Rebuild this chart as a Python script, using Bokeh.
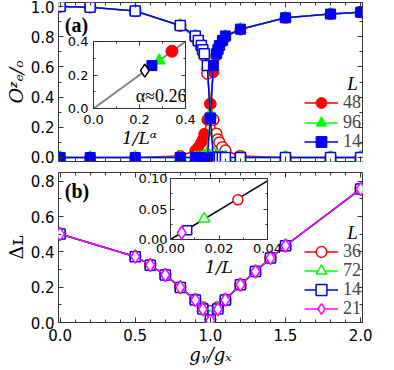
from bokeh.plotting import figure
from bokeh.layouts import column
from bokeh.models import (Range1d, LinearAxis, SingleIntervalTicker, Label,
                          Legend, LegendItem, NumeralTickFormatter,
                          CustomJSTickFormatter)
from bokeh.embed import file_html
from bokeh.resources import INLINE

# ---------------- data ----------------
g_a = [0.0, 0.2, 0.5, 0.8, 0.9, 0.92, 0.94, 0.95, 0.96, 0.98, 1.0,
       1.02, 1.04, 1.05, 1.06, 1.08, 1.1, 1.2, 1.5, 1.8, 2.0]
Oe_48 = [1.0, 0.995, 0.97, 0.872, 0.795, 0.765, 0.735, 0.705, 0.675, 0.555, 0.355,
         0.25, 0.157, 0.12, 0.10, 0.068, 0.046, 0.01, 0.0, 0.0, 0.0]
Oo_48 = [0.0, 0.0, 0.0, 0.01, 0.046, 0.068, 0.10, 0.12, 0.157, 0.25, 0.355,
         0.565, 0.675, 0.705, 0.735, 0.765, 0.795, 0.848, 0.925, 0.95, 0.962]
Oe_96 = [1.0, 0.995, 0.97, 0.873, 0.802, 0.772, 0.739, 0.711, 0.684, 0.600, 0.283,
         0.03, 0.01, 0.0, 0.0, 0.0, 0.0, 0.0, 0.0, 0.0, 0.0]
Oo_96 = [0.0, 0.0, 0.0, 0.0, 0.0, 0.0, 0.0, 0.0, 0.01, 0.03, 0.283,
         0.600, 0.684, 0.711, 0.739, 0.772, 0.802, 0.85, 0.925, 0.95, 0.962]
Oe_144 = [1.0, 0.995, 0.97, 0.874, 0.805, 0.775, 0.742, 0.714, 0.687, 0.609, 0.26,
          0.0, 0.0, 0.0, 0.0, 0.0, 0.0, 0.0, 0.0, 0.0, 0.0]
Oo_144 = [0.0, 0.0, 0.0, 0.0, 0.0, 0.0, 0.0, 0.0, 0.0, 0.0, 0.26,
          0.609, 0.687, 0.714, 0.742, 0.775, 0.805, 0.85, 0.925, 0.95, 0.962]
L_a = ["48", "96", "144"]

g_b = [0.0, 0.5, 0.6, 0.7, 0.8, 0.9, 0.95, 1.0, 1.05, 1.1, 1.2, 1.3, 1.4, 1.5, 2.0]
D_36 = [0.502, 0.374, 0.326, 0.270, 0.200, 0.130, 0.086, 0.065, 0.086, 0.131, 0.215, 0.290, 0.366, 0.436, 0.757]
D_72 = [0.502, 0.373, 0.325, 0.269, 0.199, 0.128, 0.080, 0.034, 0.080, 0.129, 0.214, 0.289, 0.365, 0.435, 0.756]
D_144 = [0.501, 0.373, 0.325, 0.269, 0.199, 0.127, 0.077, 0.015, 0.077, 0.128, 0.214, 0.289, 0.365, 0.435, 0.756]
D_216 = [0.501, 0.373, 0.325, 0.269, 0.199, 0.127, 0.075, 0.011, 0.075, 0.128, 0.214, 0.289, 0.365, 0.435, 0.756]
L_b = ["36", "72", "144", "216"]

# inset (a): order parameter vs 1/L^alpha  (L = 48, 96, 144, 216)
ia_x = [0.341, 0.286, 0.254, 0.223]
ia_y = [0.342, 0.286, 0.256, 0.226]
fit_a_x = [0.0, 0.4]
fit_a_y = [0.0, 0.4]
# inset (b): gap at g=1 vs 1/L  (L = 36, 72, 144, 216)
ib_x = [0.0278, 0.0139, 0.0069, 0.0046]
ib_y = [0.065, 0.034, 0.015, 0.011]
fit_b_x = [0.0, 0.04]
fit_b_y = [0.0, 0.096]

# axis titles
title_a_y = "Oᶻₑ/ₒ"
title_b_y = "Δʟ"
title_b_x = "gᵧ/gₓ"
title_ia_x = "1/Lᵅ"
title_ib_x = "1/L"

# ---------------- styling helpers ----------------
RED, GREEN, BLUE, MAG = "#ff0000", "#00ff00", "#0000ff", "#ff00ff"
FRAME = "#333333"
SERIF = "Liberation Serif"
TSERIF = "DejaVu Serif"
SANS = "DejaVu Sans"
W, H = 378, 368
HA = 168  # height of panel (a) canvas


def make_fig(w, h, xr, yr, bl, br, bt, bb):
    p = figure(width=w, height=h, x_range=Range1d(*xr), y_range=Range1d(*yr),
               output_backend="svg", toolbar_location=None, tools="",
               min_border_left=bl, min_border_right=br,
               min_border_top=bt, min_border_bottom=bb)
    p.xgrid.visible = False
    p.ygrid.visible = False
    p.outline_line_color = FRAME
    p.outline_line_width = 1
    p.background_fill_color = "white"
    p.border_fill_color = "white"
    return p


def style_axis(ax, ticker, show, size, standoff, fmt, maj=5, mnr=3):
    ax.ticker = ticker
    ax.axis_line_color = None
    ax.major_tick_in = maj
    ax.major_tick_out = 0
    ax.minor_tick_in = mnr
    ax.minor_tick_out = 0
    ax.major_tick_line_color = FRAME
    ax.minor_tick_line_color = FRAME
    if show:
        ax.formatter = NumeralTickFormatter(format=fmt)
        ax.major_label_text_font = SANS
        ax.major_label_text_font_size = size
        ax.major_label_text_color = "black"
        ax.major_label_standoff = standoff
    else:
        # mirrored ticks only: no labels, no space reserved
        ax.formatter = CustomJSTickFormatter(code="return ''")
        ax.major_label_text_font_size = "0px"
        ax.major_label_standoff = 0


def frame_axes(p, xint, xminor, yint, yminor, xshow, yshow, size,
               xstand, ystand, xfmt, yfmt, maj=5, mnr=3):
    style_axis(p.below[0], SingleIntervalTicker(interval=xint, num_minor_ticks=xminor),
               xshow, size, xstand, xfmt, maj, mnr)
    style_axis(p.left[0], SingleIntervalTicker(interval=yint, num_minor_ticks=yminor),
               yshow, size, ystand, yfmt, maj, mnr)
    top = LinearAxis()
    style_axis(top, SingleIntervalTicker(interval=xint, num_minor_ticks=xminor),
               False, size, 0, xfmt, maj, mnr)
    p.add_layout(top, "above")
    right = LinearAxis()
    style_axis(right, SingleIntervalTicker(interval=yint, num_minor_ticks=yminor),
               False, size, 0, yfmt, maj, mnr)
    p.add_layout(right, "right")


def axis_title(ax, text, size, style="italic", standoff=2):
    ax.axis_label = text
    ax.axis_label_text_font = TSERIF
    ax.axis_label_text_font_size = f"{size}px"
    ax.axis_label_text_font_style = style
    ax.axis_label_text_color = "black"
    ax.axis_label_standoff = standoff


def lab(p, text, x, y, size, style="normal", font=SERIF,
        align="left", baseline="alphabetic"):
    p.add_layout(Label(x=x, y=y, x_units="screen", y_units="screen", text=text,
                       text_font=font, text_font_size=f"{size}px",
                       text_font_style=style, text_align=align,
                       text_baseline=baseline, text_color="black"))


def row_legend(p, label, renderers, x, y):
    p.add_layout(Legend(items=[LegendItem(label=label, renderers=renderers)],
                        location=(x, y), glyph_width=34, glyph_height=27,
                        padding=0, margin=0, label_standoff=5, label_width=36,
                        label_text_font=SERIF, label_text_font_size="18px",
                        label_height=18, background_fill_alpha=0,
                        border_line_color=None))


XR = (-0.0107, 2.0126)
LEG_X = 246

# ---------------- panel (a) ----------------
pa = make_fig(W, HA, XR, (-0.0265, 1.0265), 52, 4, 2, HA - 161)
frame_axes(pa, 0.5, 5, 0.2, 2, False, True, "15px", 4, 4, "0.0", "0.0")
axis_title(pa.left[0], title_a_y, 19, standoff=1)

rows_a = [45.5, 25.5, 6.5]
for i, (col, mk, sz, oe, oo) in enumerate([(RED, "circle", 11, Oe_48, Oo_48),
                                          (GREEN, "triangle", 12, Oe_96, Oo_96),
                                          (BLUE, "square", 10, Oe_144, Oo_144)]):
    pa.line(g_a, oe, line_color=col, line_width=1.5)
    lf = pa.line(g_a, oo, line_color=col, line_width=1.5)
    pa.scatter(g_a, oe, marker=mk, size=sz, fill_color="white",
               line_color=col, line_width=1.5)
    sf = pa.scatter(g_a, oo, marker=mk, size=sz, fill_color=col,
                    line_color=col, line_width=1.0)
    row_legend(pa, L_a[i], [lf, sf], LEG_X, rows_a[i])

lab(pa, "(a)", 18, 136.5, 20, style="bold", align="center", baseline="middle")
lab(pa, "L", LEG_X + 48, 78, 19, style="italic", align="center", baseline="middle")

# ---------------- panel (b) ----------------
pb = make_fig(W, H - HA, XR, (0.0, 0.85), 52, 4, 172 - HA, H - 322)
frame_axes(pb, 0.5, 5, 0.2, 2, True, True, "15px", 6, 4, "0.0", "0.0")
axis_title(pb.left[0], title_b_y, 19, style="normal", standoff=1)
axis_title(pb.below[0], title_b_x, 18, standoff=0)

rows_b = [57.5, 38.5, 19.5, 0.5]
for i, (col, mk, sz, d) in enumerate([(RED, "circle", 11, D_36),
                                     (GREEN, "triangle", 12, D_72),
                                     (BLUE, "square", 10, D_144),
                                     (MAG, "diamond", 13, D_216)]):
    ln = pb.line(g_b, d, line_color=col, line_width=1.5)
    sc = pb.scatter(g_b, d, marker=mk, size=sz, fill_color="white",
                    line_color=col, line_width=1.5)
    row_legend(pb, L_b[i], [ln, sc], LEG_X, rows_b[i])

lab(pb, "(b)", 18.5, 131.5, 20, style="bold", align="center", baseline="middle")
lab(pb, "L", LEG_X + 48, 90, 19, style="italic", align="center", baseline="middle")

# ---------------- inset (a) ----------------
ia = make_fig(55 + 97 + 14, 10 + 67 + 45, (0.0, 0.4), (0.0, 0.4), 55, 14, 10, 45)
ia.border_fill_alpha = 0
frame_axes(ia, 0.2, 2, 0.2, 2, True, True, "13px", 6, 5, "0.0", "0.0", maj=4, mnr=2)
axis_title(ia.below[0], title_ia_x, 17, standoff=1)
ia.line(fit_a_x, fit_a_y, line_color="#808080", line_width=2)
ia.scatter(ia_x[0:1], ia_y[0:1], marker="circle", size=12, fill_color=RED, line_color=RED)
ia.scatter(ia_x[1:2], ia_y[1:2], marker="triangle", size=12, fill_color=GREEN, line_color=GREEN)
ia.scatter(ia_x[2:3], ia_y[2:3], marker="square", size=10, fill_color=BLUE, line_color=BLUE)
ia.scatter(ia_x[3:4], ia_y[3:4], marker="diamond", size=13, fill_color="white",
           line_color="black", line_width=1.5)
lab(ia, "α≈0.26", 93, 12.2, 18, align="right", baseline="middle")
ia.styles = {"position": "absolute", "left": "35px", "top": "31px"}

# ---------------- inset (b) ----------------
ib = make_fig(58 + 97 + 16, 10 + 61 + 40, (0.0, 0.04), (0.0, 0.1), 58, 16, 10, 40)
ib.border_fill_alpha = 0
frame_axes(ib, 0.02, 2, 0.05, 2, True, True, "13px", 4, 3, "0.00", "0.00", maj=4, mnr=2)
axis_title(ib.below[0], title_ib_x, 17, standoff=1)
ib.line(fit_b_x, fit_b_y, line_color="black", line_width=1.5)
ib.scatter(ib_x[0:1], ib_y[0:1], marker="circle", size=10, fill_color="white", line_color=RED, line_width=1.5)
ib.scatter(ib_x[1:2], ib_y[1:2], marker="triangle", size=11, fill_color="white", line_color=GREEN, line_width=1.5)
ib.scatter(ib_x[2:3], ib_y[2:3], marker="square", size=9, fill_color="white", line_color=BLUE, line_width=1.5)
ib.scatter(ib_x[3:4], ib_y[3:4], marker="diamond", size=13, fill_color="white", line_color=MAG, line_width=1.5)
ib.styles = {"position": "absolute", "left": "112px", "top": "168px"}

root = column(pa, pb, ia, ib)
open("out.html", "w").write(file_html(root, INLINE))
